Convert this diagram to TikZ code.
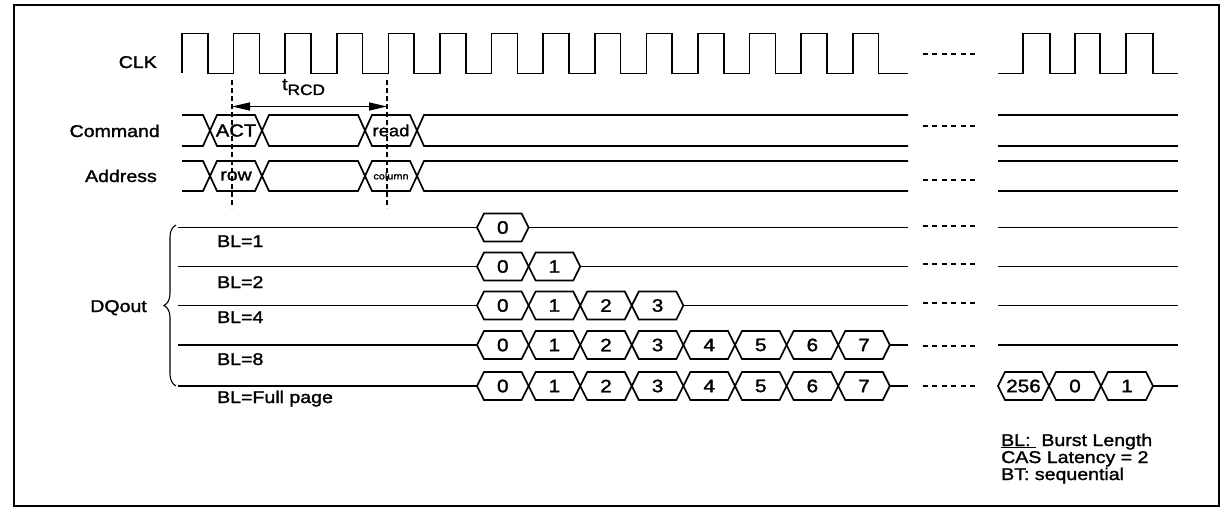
\documentclass[tikz,border=0pt]{standalone}
\usepackage{fontspec}
\setmainfont{Liberation Sans}[FakeStretch=1.15,FakeBold=1.6]
\usetikzlibrary{arrows.meta,decorations.pathreplacing}
\newcommand\lblsize{\fontsize{17}{17}\selectfont}
\newcommand\digsize{\fontsize{18}{18}\selectfont}
\newcommand\mybub[7]{%
  \draw[sig] (#2,#4) -- (#2+7,#4-#5) -- (#3-7,#4-#5) -- (#3,#4) -- (#3-7,#4+#5) -- (#2+7,#4+#5) -- cycle;
  \node[#6] (#1) at ({(#2+#3)/2},#4) {#7};}
\tikzset{
  sig/.style={line width=1.7pt, line join=miter},
  lbl/.style={font=\lblsize, inner sep=0pt},
  dig/.style={font=\digsize, inner sep=0pt},
  gapdash/.style={line width=1.3pt, dash pattern=on 5pt off 4.4pt},
  vguide/.style={line width=1.1pt, dash pattern=on 5pt off 3pt},
  frameline/.style={line width=1.5pt}
}
\begin{document}
\begin{tikzpicture}[x=1pt,y=-1pt]
\useasboundingbox (0,0) rectangle (1228,508);
\draw[frameline] (14,5) rectangle (1219,506);

% labels
\node[lbl, anchor=base east] (clk) at (157,68) {CLK};
\node[lbl, anchor=base east] (cmd) at (160,137) {Command};
\node[lbl, anchor=base east] (adr) at (157,182) {Address};
\node[lbl, anchor=base east] (dq) at (147,312) {DQout};
\node[lbl, anchor=base west] (bl1) at (217,247) {BL=1};
\node[lbl, anchor=base west] (bl2) at (217,288) {BL=2};
\node[lbl, anchor=base west] (bl4) at (217,323) {BL=4};
\node[lbl, anchor=base west] (bl8) at (217,365) {BL=8};
\node[lbl, anchor=base west] (blf) at (217,403) {BL=Full page};

% clock
\draw[sig] (182,73.5) \foreach \k in {0,...,13}{ -- ({182+51.6*\k},73.5) -- ({182+51.6*\k},33.5) -- ({207.8+51.6*\k},33.5) -- ({207.8+51.6*\k},73.5) } -- (908,73.5);
\draw[sig] (998,73.5) -- (1023,73.5) -- (1023,33.5) -- (1050,33.5) -- (1050,73.5) -- (1075,73.5) -- (1075,33.5) -- (1100,33.5) -- (1100,73.5) -- (1126,73.5) -- (1126,33.5) -- (1153,33.5) -- (1153,73.5) -- (1178,73.5);

% command row
\draw[sig] (182,115) -- (203,115) -- (210,130.5) -- (203,146) -- (182,146);
\mybub{act}{210}{262}{130.5}{15.5}{lbl}{\fontsize{17.5}{18}\selectfont ACT}
\mybub{cblank}{262}{365}{130.5}{15.5}{lbl}{}
\mybub{rd}{365}{417}{130.5}{15.5}{lbl}{\fontsize{16}{16}\selectfont read}
\draw[sig] (908,115) -- (424,115) -- (417,130.5) -- (424,146) -- (908,146);
\draw[sig] (998,115) -- (1178,115);
\draw[sig] (998,146) -- (1178,146);

% address row
\draw[sig] (182,161) -- (203,161) -- (210,176) -- (203,191) -- (182,191);
\mybub{row}{210}{262}{176}{15}{lbl}{\fontsize{17}{17}\selectfont row}
\mybub{ablank}{262}{365}{176}{15}{lbl}{}
\mybub{col}{365}{417}{176}{15}{lbl}{\fontsize{9.5}{10}\selectfont column}
\draw[sig] (908,161) -- (424,161) -- (417,176) -- (424,191) -- (908,191);
\draw[sig] (998,161) -- (1178,161);
\draw[sig] (998,191) -- (1178,191);

% tRCD
\coordinate (g1a) at (232,80); \coordinate (g1b) at (232,208);
\coordinate (g2a) at (387,80); \coordinate (g2b) at (387,208);
\draw[vguide] (g1a) -- (g1b);
\draw[vguide] (g2a) -- (g2b);
\coordinate (r1) at (232,106.5); \coordinate (r2) at (387,106.5);
\draw[line width=1.4pt, {Triangle[length=18pt,width=8pt]}-{Triangle[length=18pt,width=8pt]}] (r1) -- (r2);
\node[inner sep=0pt, anchor=base west] (trcd) at (282,90) {\fontsize{17}{17}\selectfont t\raisebox{-5pt}{\fontsize{15}{15}\selectfont RCD}};

% DQout brace
\draw[line width=1.1pt, decorate, decoration={brace, amplitude=12pt}] (176,386) -- (176,225);

% BL=1
\draw[sig] (178,227.5) -- (477,227.5);
\mybub{a0}{477}{528.6}{227.5}{14}{dig}{0}
\draw[sig] (528.6,227.5) -- (908,227.5);
% BL=2
\draw[sig] (178,266.5) -- (477,266.5);
\foreach \k in {0,1}{\pgfmathsetmacro\xa{477+51.6*\k}\pgfmathsetmacro\xb{\xa+51.6}\mybub{b\k}{\xa}{\xb}{266.5}{14}{dig}{\k}}
\draw[sig] (580.2,266.5) -- (908,266.5);
% BL=4
\draw[sig] (178,305.5) -- (477,305.5);
\foreach \k in {0,...,3}{\pgfmathsetmacro\xa{477+51.6*\k}\pgfmathsetmacro\xb{\xa+51.6}\mybub{c\k}{\xa}{\xb}{305.5}{14}{dig}{\k}}
\draw[sig] (683.4,305.5) -- (908,305.5);
% BL=8
\draw[sig] (178,345) -- (477,345);
\foreach \k in {0,...,7}{\pgfmathsetmacro\xa{477+51.6*\k}\pgfmathsetmacro\xb{\xa+51.6}\mybub{d\k}{\xa}{\xb}{345}{14}{dig}{\k}}
\draw[sig] (889.8,345) -- (908,345);
% Full page
\draw[sig] (178,386) -- (477,386);
\foreach \k in {0,...,7}{\pgfmathsetmacro\xa{477+51.6*\k}\pgfmathsetmacro\xb{\xa+51.6}\mybub{e\k}{\xa}{\xb}{386}{14}{dig}{\k}}
\draw[sig] (889.8,386) -- (908,386);

% right part of DQ
\draw[sig] (998,227.5) -- (1178,227.5);
\draw[sig] (998,266.5) -- (1178,266.5);
\draw[sig] (998,305.5) -- (1178,305.5);
\draw[sig] (998,345) -- (1178,345);
\mybub{f256}{998}{1049}{386}{14}{dig}{256}
\mybub{f0}{1049}{1101}{386}{14}{dig}{0}
\mybub{f1}{1101}{1153}{386}{14}{dig}{1}
\draw[sig] (1153,386) -- (1178,386);

% gap dashes
\foreach \y in {54,126,180,226,264,303,346,386} \draw[gapdash] (923,\y) -- (975,\y);

% legend
\node[lbl, anchor=base west] (lg1) at (1001,446) {\underline{BL:~}~Burst Length};
\node[lbl, anchor=base west] (lg2) at (1001,463) {CAS Latency = 2};
\node[lbl, anchor=base west] (lg3) at (1001,480) {BT: sequential};
\end{tikzpicture}
\end{document}
